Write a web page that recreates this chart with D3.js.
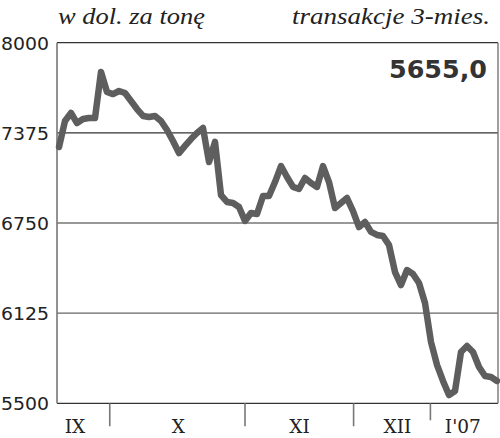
<!DOCTYPE html>
<html><head><meta charset="utf-8">
<script src="https://cdn.jsdelivr.net/npm/d3@7"></script>
<style>body{margin:0;background:#fff}svg{display:block}</style>
</head><body>
<svg id="c" width="500" height="438"></svg>
<script>
// copper price, USD per tonne, 3-month transactions (daily index)
const prices = [7277,7457,7513,7443,7471,7478,7478,7797,7658,7644,
  7665,7651,7596,7540,7492,7485,7492,7457,7395,7318,
  7235,7284,7332,7374,7409,7173,7312,6944,6896,6889,
  6861,6764,6819,6812,6937,6937,7034,7145,7069,7000,
  6986,7062,7027,7000,7145,7034,6854,6889,6923,6833,
  6722,6757,6688,6667,6660,6597,6410,6320,6424,6396,
  6334,6195,5925,5766,5655,5557,5585,5856,5897,5856,
  5752,5689,5682,5655];
const yTicks = [5500, 6125, 6750, 7375, 8000];
const monthBreaks = [8.46, 31.0, 49.1, 61.9];
const monthLabels = ["IX", "X", "XI", "XII", "I'07"];
const monthLabelPos = [2.65, 19.9, 40.1, 56.4, 67.3];
const unitLabel = "w dol. za tonę";
const typeLabel = "transakcje 3-mies.";
const lastValueLabel = "5655,0";

const svg = d3.select("#c");
const L = 57, R = 498, T = 42.7, B = 403.3;
const x = d3.scaleLinear().domain([0, prices.length - 1]).range([59, 497]);
const y = d3.scaleLinear().domain([5500, 8000]).range([B, T]);

// gridlines
svg.append("g").selectAll("line").data(yTicks.filter(d => d !== 5500)).join("line")
  .attr("x1", L).attr("x2", R).attr("y1", d => y(d)).attr("y2", d => y(d))
  .attr("stroke", d => d === 6125 ? "#666" : "#333").attr("stroke-width", 1.2);

// frame
svg.append("line").attr("x1", L).attr("x2", R).attr("y1", B).attr("y2", B).attr("stroke", "#333").attr("stroke-width", 1.3);
svg.append("line").attr("x1", L).attr("x2", L).attr("y1", T).attr("y2", B).attr("stroke", "#777").attr("stroke-width", 1.6);
svg.append("line").attr("x1", R).attr("x2", R).attr("y1", T).attr("y2", B).attr("stroke", "#777").attr("stroke-width", 1.4);

// month ticks
svg.append("g").selectAll("line").data(monthBreaks).join("line")
  .attr("x1", d => x(d)).attr("x2", d => x(d)).attr("y1", B)
  .attr("y2", (d, i) => i === monthBreaks.length - 1 ? B + 17 : B + 23)
  .attr("stroke", "#777").attr("stroke-width", 1.6);

// y labels
svg.append("g").selectAll("text").data(yTicks).join("text")
  .attr("x", 49).attr("y", d => y(d) + 2).attr("text-anchor", "end")
  .attr("dominant-baseline", "middle")
  .attr("font-family", "'DejaVu Sans', sans-serif").attr("font-size", 17)
  .attr("fill", "#222")
  .attr("textLength", 48).attr("lengthAdjust", "spacingAndGlyphs")
  .text(d => d);

// month labels
svg.append("g").selectAll("text").data(monthLabels).join("text")
  .attr("x", (d, i) => x(monthLabelPos[i])).attr("y", 433).attr("text-anchor", "middle")
  .attr("font-family", "'DejaVu Serif', serif").attr("font-size", 18.5)
  .attr("fill", "#222").text(d => d);

// line
svg.append("path").datum(prices)
  .attr("d", d3.line().x((d, i) => x(i)).y(d => y(d)))
  .attr("fill", "none").attr("stroke", "#5e5e5e").attr("stroke-width", 6.5)
  .attr("stroke-linejoin", "round").attr("stroke-linecap", "round");

// titles
svg.append("text").attr("x", 58).attr("y", 24)
  .attr("font-family", "'Liberation Serif', serif").attr("font-style", "italic")
  .attr("font-size", 23).attr("fill", "#222")
  .attr("textLength", 147).attr("lengthAdjust", "spacingAndGlyphs").text(unitLabel);
svg.append("text").attr("x", 490).attr("y", 24).attr("text-anchor", "end")
  .attr("font-family", "'Liberation Serif', serif").attr("font-style", "italic")
  .attr("font-size", 23).attr("fill", "#222")
  .attr("textLength", 198).attr("lengthAdjust", "spacingAndGlyphs").text(typeLabel);
svg.append("text").attr("x", 487).attr("y", 78).attr("text-anchor", "end")
  .attr("font-family", "'DejaVu Sans', sans-serif").attr("font-weight", "bold")
  .attr("font-size", 24).attr("fill", "#333")
  .attr("textLength", 98).attr("lengthAdjust", "spacingAndGlyphs").text(lastValueLabel);
</script>
</body></html>
